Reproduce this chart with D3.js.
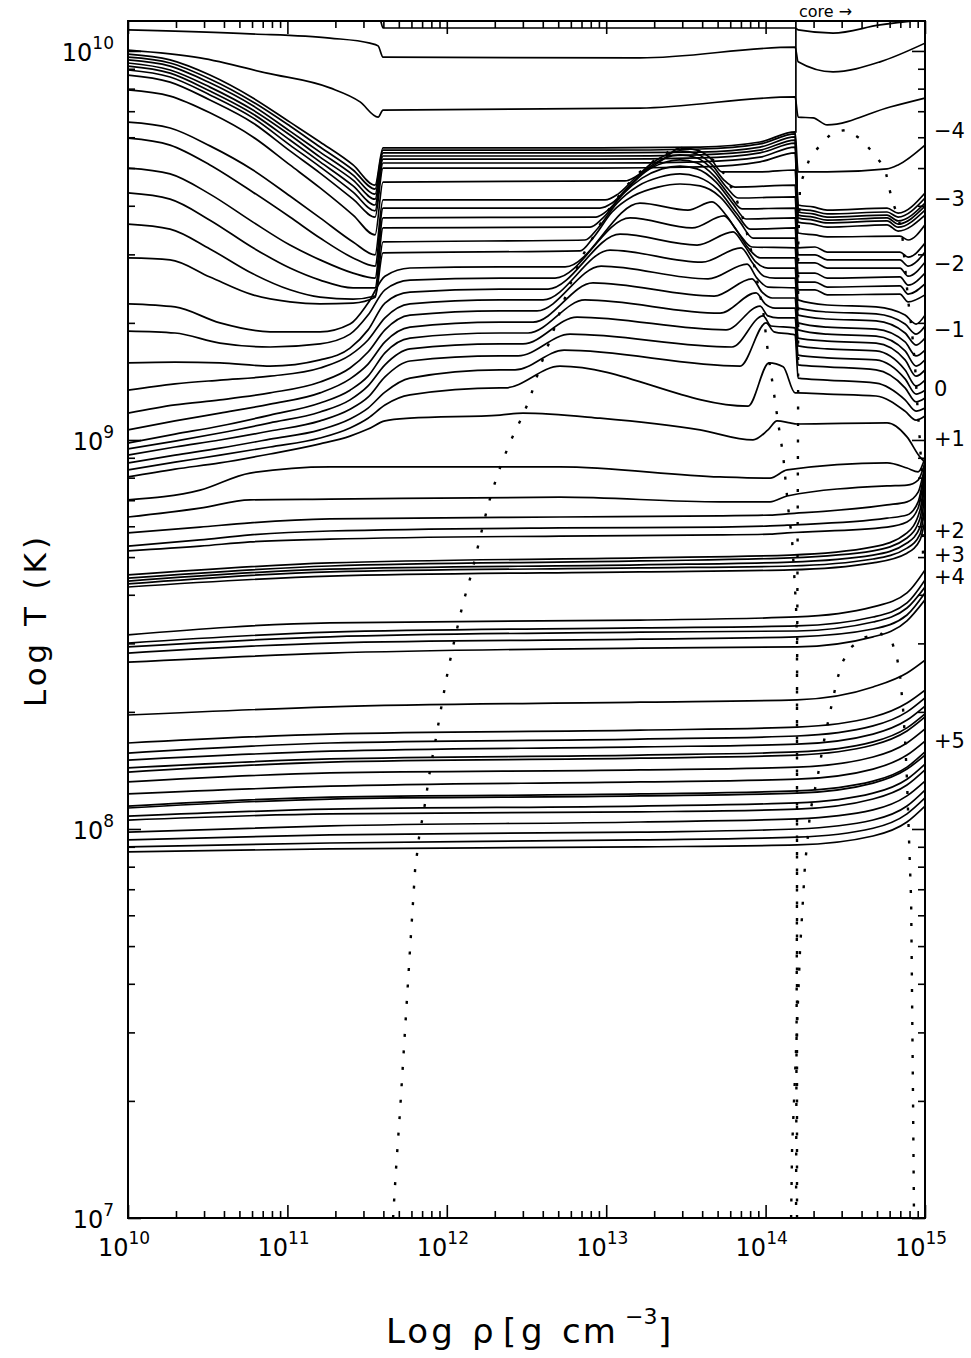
<!DOCTYPE html>
<html>
<head>
<meta charset="utf-8">
<script src="https://cdn.jsdelivr.net/npm/d3@7"></script>
<style>
  body { margin: 0; background: #fff; }
  svg text { font-family: "DejaVu Sans", "Liberation Sans", sans-serif; fill: #000; }
</style>
</head>
<body>
<script>
// values: [log10 rho (g cm^-3), log10 T (K)]

// hottest profiles
const topRim = [[10.000,10.082],[11.581,10.080],[11.600,10.059],[14.185,10.059],[14.204,10.054],[14.423,10.046],[14.718,10.067],[15.000,10.080]];
const hotA = [[10.000,10.054],[10.766,10.044],[11.267,10.033],[11.518,10.020],[11.569,10.013],[11.600,9.984],[13.212,9.982],[14.185,10.010],[14.204,9.972],[14.423,9.946],[14.718,9.972],[15.000,10.020]];
const hotB = [[10.000,10.002],[10.452,9.982],[10.872,9.943],[11.267,9.905],[11.456,9.869],[11.569,9.830],[11.600,9.848],[13.212,9.853],[14.185,9.882],[14.204,9.830],[14.298,9.828],[14.386,9.810],[14.781,9.856],[15.000,9.879]];
const edgeLine = [[14.19,10.08],[14.19,9.79]];

// outer crust part shared by bundle and hump profiles
const rhoLeft = [10.000,10.264,10.514,10.784,11.016,11.205,11.412,11.550];

// bundle: profiles that stay flat across the inner crust
const bundleLeft = [
  [9.992,9.977,9.938,9.879,9.817,9.766,9.707,9.655],
  [9.984,9.969,9.928,9.869,9.807,9.753,9.694,9.645],
  [9.977,9.961,9.918,9.859,9.794,9.740,9.681,9.632],
  [9.969,9.951,9.907,9.848,9.784,9.727,9.668,9.619],
  [9.961,9.943,9.897,9.838,9.771,9.715,9.653,9.604],
  [9.951,9.933,9.887,9.828,9.758,9.702,9.637,9.589],
  [9.938,9.920,9.874,9.815,9.743,9.686,9.619,9.573]
];
const rhoBundleMid = [11.600,12.961,13.589,13.965,14.185];
const bundleMid = [
  [9.751,9.751,9.753,9.766,9.792],
  [9.745,9.745,9.748,9.761,9.787],
  [9.738,9.738,9.740,9.753,9.779],
  [9.730,9.730,9.733,9.745,9.771],
  [9.722,9.722,9.725,9.738,9.763],
  [9.712,9.712,9.715,9.727,9.753],
  [9.699,9.699,9.702,9.715,9.738]
];
const rhoBundleRight = [14.204,14.298,14.386,14.762,14.831,15.000];
const bundleRight = [
  [9.689,9.689,9.689,9.697,9.707,9.758],
  [9.604,9.599,9.591,9.596,9.583,9.635],
  [9.594,9.589,9.581,9.586,9.573,9.622],
  [9.586,9.581,9.573,9.578,9.563,9.609],
  [9.578,9.573,9.565,9.571,9.555,9.601],
  [9.571,9.565,9.558,9.563,9.547,9.591],
  [9.560,9.555,9.547,9.553,9.537,9.578]
];

// single-hump profiles
const humpLeft = [
  [9.900,9.884,9.841,9.779,9.707,9.648,9.578,9.527],
  [9.817,9.802,9.756,9.694,9.627,9.571,9.509,9.476],
  [9.776,9.758,9.707,9.637,9.573,9.519,9.468,9.447],
  [9.699,9.684,9.632,9.560,9.501,9.463,9.429,9.416],
  [9.635,9.619,9.565,9.494,9.442,9.411,9.391,9.391],
  [9.555,9.542,9.491,9.427,9.386,9.367,9.362,9.370],
  [9.468,9.463,9.419,9.373,9.355,9.350,9.352,9.367]
];
const humpMid = [
  [[11.600,9.663],[13.118,9.666],[13.194,9.679],[13.275,9.699],[13.369,9.725],[13.463,9.751],[13.570,9.745],[13.652,9.725],[13.727,9.689],[13.965,9.689],[14.185,9.694]],
  [[11.600,9.617],[12.993,9.617],[13.074,9.632],[13.181,9.673],[13.288,9.712],[13.388,9.735],[13.463,9.743],[13.570,9.735],[13.664,9.707],[13.739,9.668],[13.808,9.650],[14.185,9.655]],
  [[11.600,9.596],[12.961,9.596],[13.037,9.609],[13.150,9.655],[13.263,9.699],[13.369,9.725],[13.463,9.733],[13.570,9.725],[13.670,9.694],[13.758,9.648],[13.827,9.622],[14.185,9.625]],
  [[11.600,9.571],[12.936,9.573],[13.012,9.591],[13.131,9.645],[13.244,9.689],[13.357,9.712],[13.463,9.720],[13.570,9.712],[13.677,9.679],[13.777,9.627],[13.852,9.594],[14.185,9.596]],
  [[11.600,9.545],[12.899,9.547],[12.980,9.571],[13.099,9.630],[13.225,9.673],[13.350,9.697],[13.463,9.704],[13.570,9.697],[13.689,9.663],[13.796,9.607],[13.877,9.568],[14.185,9.571]],
  [[11.600,9.509],[12.867,9.514],[12.949,9.545],[13.068,9.609],[13.200,9.653],[13.338,9.676],[13.463,9.684],[13.576,9.676],[13.702,9.643],[13.821,9.581],[13.903,9.542],[14.185,9.545]],
  [[11.600,9.481],[12.836,9.486],[12.917,9.519],[13.037,9.586],[13.169,9.627],[13.325,9.650],[13.463,9.658],[13.589,9.653],[13.714,9.625],[13.840,9.560],[13.921,9.519],[14.185,9.519]]
];
const rhoHumpRight = [14.204,14.310,14.386,14.843,14.894,15.000];
const humpRight = [
  [9.532,9.527,9.522,9.524,9.514,9.553],
  [9.494,9.496,9.483,9.483,9.470,9.506],
  [9.476,9.476,9.463,9.463,9.447,9.483],
  [9.455,9.455,9.442,9.442,9.421,9.457],
  [9.429,9.429,9.416,9.419,9.398,9.429],
  [9.406,9.406,9.393,9.396,9.375,9.401],
  [9.386,9.386,9.373,9.375,9.355,9.373]
];

// double-hump profiles
const rhoTwinLeft = [10.000,10.295,10.577,10.891,11.205,11.393,11.506,11.612,11.769,12.334];
const twinLeft = [
  [9.350,9.342,9.301,9.278,9.278,9.298,9.352,9.421,9.442,9.445],
  [9.280,9.275,9.249,9.239,9.247,9.272,9.321,9.386,9.411,9.416],
  [9.198,9.200,9.198,9.190,9.206,9.236,9.283,9.352,9.380,9.388],
  [9.128,9.144,9.154,9.164,9.185,9.218,9.257,9.314,9.350,9.360],
  [9.069,9.090,9.103,9.121,9.149,9.185,9.226,9.283,9.321,9.332],
  [9.026,9.049,9.069,9.092,9.121,9.157,9.195,9.252,9.290,9.303],
  [8.992,9.015,9.036,9.064,9.095,9.128,9.164,9.224,9.262,9.275],
  [8.977,8.997,9.018,9.044,9.072,9.103,9.139,9.193,9.234,9.247],
  [8.961,8.982,9.000,9.023,9.049,9.079,9.110,9.162,9.203,9.216],
  [8.941,8.961,8.979,9.002,9.026,9.054,9.082,9.123,9.159,9.180],
  [8.923,8.943,8.961,8.982,9.005,9.031,9.056,9.090,9.116,9.134]
];
const twinMid = [
  [[12.742,9.445],[13.212,9.609],[13.513,9.591],[13.664,9.612],[13.746,9.581],[13.840,9.527],[13.915,9.496],[14.185,9.494]],
  [[12.679,9.416],[13.150,9.571],[13.539,9.545],[13.739,9.576],[13.808,9.545],[13.890,9.494],[13.965,9.468],[14.185,9.468]],
  [[12.635,9.388],[13.087,9.529],[13.570,9.501],[13.796,9.535],[13.865,9.501],[13.940,9.457],[14.015,9.442],[14.185,9.442]],
  [[12.604,9.360],[13.024,9.488],[13.601,9.457],[13.846,9.494],[13.915,9.457],[13.990,9.421],[14.060,9.416],[14.185,9.416]],
  [[12.566,9.332],[12.968,9.447],[13.639,9.414],[13.884,9.452],[13.946,9.416],[14.015,9.393],[14.185,9.391]],
  [[12.541,9.303],[12.917,9.404],[13.677,9.370],[13.915,9.414],[13.978,9.380],[14.041,9.365],[14.185,9.365]],
  [[12.510,9.275],[12.867,9.360],[13.714,9.326],[13.940,9.378],[13.997,9.350],[14.060,9.339],[14.185,9.339]],
  [[12.478,9.247],[12.817,9.316],[13.752,9.283],[13.965,9.344],[14.015,9.319],[14.078,9.314],[14.185,9.314]],
  [[12.447,9.216],[12.773,9.272],[13.789,9.239],[13.984,9.319],[14.034,9.293],[14.185,9.288]],
  [[12.428,9.180],[12.736,9.231],[13.840,9.190],[14.003,9.301],[14.053,9.278],[14.185,9.270]],
  [[12.365,9.134],[12.710,9.190],[13.890,9.087],[14.022,9.198],[14.110,9.188],[14.185,9.121]]
];
const rhoTwinRight = [14.204,14.386,14.693,14.875,14.944,15.000];
const twinRight = [
  [9.360,9.347,9.342,9.321,9.298,9.321],
  [9.339,9.329,9.324,9.298,9.272,9.293],
  [9.321,9.311,9.306,9.275,9.244,9.262],
  [9.301,9.290,9.285,9.252,9.216,9.231],
  [9.283,9.272,9.267,9.229,9.190,9.206],
  [9.262,9.254,9.249,9.206,9.164,9.180],
  [9.242,9.234,9.229,9.180,9.139,9.154],
  [9.218,9.211,9.206,9.157,9.118,9.128],
  [9.193,9.188,9.180,9.134,9.098,9.108],
  [9.159,9.154,9.146,9.103,9.074,9.082],
  [9.121,9.118,9.113,9.074,9.051,9.062]
];

// the ~1e9 K profile
const warmLeft = [8.905,8.925,8.941,8.964,8.990,9.010,9.028,9.049,9.056,9.064];
const warmMid = [[12.478,9.069],[12.961,9.056],[13.589,9.026],[13.921,9.000],[14.015,9.026],[14.072,9.049],[14.153,9.044],[14.197,9.041]];
const warmRight = [[14.762,9.044],[14.887,9.008],[14.969,8.956],[15.000,8.943]];

// cooler profiles converging at the right edge
const rhoShellL = [10.000,10.452,10.766,11.267,12.710,13.714,14.028,14.135,14.762,14.887,14.957,15.000];
const shellL = [
  [8.846,8.871,8.915,8.931,8.931,8.905,8.902,8.923,8.941,8.928,8.918,8.954],
  [8.802,8.825,8.846,8.848,8.853,8.841,8.841,8.856,8.882,8.884,8.897,8.943],
  [8.761,8.776,8.787,8.797,8.802,8.805,8.807,8.810,8.833,8.841,8.866,8.936],
  [8.727,8.743,8.756,8.766,8.774,8.776,8.779,8.781,8.799,8.807,8.841,8.931],
  [8.715,8.727,8.738,8.745,8.753,8.756,8.758,8.761,8.776,8.789,8.825,8.923]
];
const rhoShellK = [10.000,11.267,13.212,14.153,14.674,14.887,14.969,15.000];
const shellK = [
  [8.653,8.684,8.697,8.704,8.725,8.761,8.820,8.918],
  [8.645,8.676,8.689,8.697,8.715,8.748,8.799,8.902],
  [8.637,8.668,8.679,8.686,8.704,8.735,8.776,8.871],
  [8.630,8.661,8.671,8.676,8.694,8.722,8.758,8.833],
  [8.622,8.650,8.661,8.666,8.684,8.709,8.743,8.794]
];
const rhoCool = [10.000,11.267,13.212,14.197,14.674,14.887,15.000];
const coolM = [
  [8.499,8.530,8.537,8.545,8.571,8.607,8.666],
  [8.478,8.506,8.517,8.522,8.545,8.581,8.640],
  [8.468,8.494,8.506,8.509,8.532,8.568,8.622],
  [8.452,8.478,8.488,8.494,8.514,8.550,8.607],
  [8.429,8.452,8.465,8.468,8.494,8.535,8.589]
];
const coolN = [8.293,8.314,8.326,8.332,8.365,8.401,8.434];
const coolG = [
  [8.221,8.244,8.254,8.262,8.288,8.324,8.357],
  [8.195,8.221,8.231,8.239,8.265,8.301,8.337],
  [8.177,8.200,8.211,8.218,8.244,8.280,8.316],
  [8.157,8.180,8.190,8.198,8.224,8.260,8.296],
  [8.146,8.172,8.182,8.190,8.216,8.252,8.288],
  [8.121,8.144,8.152,8.159,8.185,8.221,8.257],
  [8.090,8.110,8.121,8.128,8.154,8.190,8.226],
  [8.059,8.082,8.090,8.098,8.123,8.159,8.198],
  [8.054,8.077,8.085,8.092,8.118,8.154,8.190],
  [8.033,8.051,8.059,8.067,8.092,8.128,8.167],
  [8.023,8.039,8.044,8.051,8.077,8.113,8.152],
  [7.992,8.008,8.018,8.026,8.049,8.085,8.123],
  [7.972,7.985,7.992,8.000,8.023,8.059,8.100],
  [7.954,7.964,7.972,7.979,8.002,8.039,8.080],
  [7.941,7.949,7.954,7.959,7.982,8.018,8.059]
];

// dotted curves
const dotArcLeft = [[11.663,7.000],[11.681,7.123],[11.707,7.277],[11.738,7.483],[11.769,7.689],[11.801,7.895],[11.826,7.979],[11.864,8.067],[11.895,8.152],[11.933,8.236],[11.970,8.324],[12.008,8.409],[12.052,8.493],[12.102,8.581],[12.158,8.661],[12.208,8.748],[12.259,8.833],[12.321,8.915],[12.397,8.995],[12.478,9.064],[12.522,9.108],[12.585,9.188],[12.660,9.270],[12.729,9.352],[12.792,9.419],[12.855,9.476],[12.943,9.540],[13.005,9.586],[13.131,9.655],[13.212,9.689],[13.306,9.720],[13.388,9.740],[13.463,9.751],[13.570,9.745],[13.670,9.720],[13.746,9.681],[13.808,9.630],[13.871,9.553],[13.915,9.476],[13.953,9.398],[13.984,9.334],[14.015,9.224],[14.047,9.136],[14.078,9.046],[14.110,8.961],[14.141,8.828],[14.166,8.743],[14.179,8.658],[14.191,8.571],[14.197,8.486],[14.197,7.869],[14.191,7.000]];
const dotArcRight = [[14.197,7.000],[14.197,8.332],[14.204,9.103],[14.204,9.488],[14.216,9.655],[14.279,9.727],[14.354,9.763],[14.423,9.792],[14.511,9.797],[14.605,9.771],[14.674,9.738],[14.749,9.699],[14.768,9.661],[14.793,9.617],[14.831,9.573],[14.856,9.532],[14.875,9.445],[14.894,9.360],[14.919,9.275],[14.938,9.188],[14.950,9.103],[14.969,8.992],[14.981,8.897],[14.988,8.691]];
const dotArcLow = [[14.160,7.000],[14.166,7.175],[14.191,7.432],[14.216,7.689],[14.248,7.913],[14.260,7.959],[14.279,8.041],[14.298,8.082],[14.323,8.126],[14.361,8.216],[14.405,8.301],[14.448,8.383],[14.480,8.427],[14.530,8.465],[14.611,8.491],[14.718,8.504],[14.793,8.481],[14.825,8.439],[14.843,8.396],[14.862,8.311],[14.875,8.229],[14.887,8.126],[14.900,7.972],[14.913,7.817],[14.919,7.560],[14.925,7.303],[14.931,7.000]];

// axis ticks and labels
const tempDecades = [7, 8, 9, 10];
const rhoDecades = [10, 11, 12, 13, 14, 15];
const levelLabels = ["\u22124", "\u22123", "\u22122", "\u22121", "0", "+1", "+2", "+3", "+4", "+5"];
const levelLabelT = [9.797, 9.622, 9.455, 9.285, 9.134, 9.005, 8.769, 8.707, 8.650, 8.229];

// ---- drawing ----
const width = 971, height = 1358;
const plotL = 128, plotR = 925, plotT = 21, plotB = 1218;

const x = d3.scaleLinear().domain([10, 15]).range([plotL, plotR]);
const y = d3.scaleLinear().domain([7, 10.077]).range([plotB, plotT]);

const svg = d3.select("body").append("svg")
  .attr("width", width)
  .attr("height", height);

svg.append("defs").append("clipPath").attr("id", "plot")
  .append("rect")
  .attr("x", plotL).attr("y", plotT)
  .attr("width", plotR - plotL).attr("height", plotB - plotT);

const zip = (grid, vals) => grid.map((r, i) => [r, vals[i]]);

const profiles = [topRim, hotA, hotB];
bundleLeft.forEach((v, i) => profiles.push([...zip(rhoLeft, v), ...zip(rhoBundleMid, bundleMid[i]), ...zip(rhoBundleRight, bundleRight[i])]));
humpLeft.forEach((v, i) => profiles.push([...zip(rhoLeft, v), ...humpMid[i], ...zip(rhoHumpRight, humpRight[i])]));
twinLeft.forEach((v, i) => profiles.push([...zip(rhoTwinLeft, v), ...twinMid[i], ...zip(rhoTwinRight, twinRight[i])]));
profiles.push([...zip(rhoTwinLeft, warmLeft), ...warmMid, ...warmRight]);
shellL.forEach(v => profiles.push(zip(rhoShellL, v)));
shellK.forEach(v => profiles.push(zip(rhoShellK, v)));
coolM.forEach(v => profiles.push(zip(rhoCool, v)));
profiles.push(zip(rhoCool, coolN));
coolG.forEach(v => profiles.push(zip(rhoCool, v)));

const smooth = d3.line().x(d => x(d[0])).y(d => y(d[1])).curve(d3.curveMonotoneX);
const straight = d3.line().x(d => x(d[0])).y(d => y(d[1]));

const plot = svg.append("g").attr("clip-path", "url(#plot)");

plot.selectAll("path.profile")
  .data(profiles)
  .join("path")
  .attr("class", "profile")
  .attr("d", smooth)
  .attr("fill", "none")
  .attr("stroke", "#000")
  .attr("stroke-width", 1.7);

plot.append("path")
  .attr("d", straight(edgeLine))
  .attr("fill", "none").attr("stroke", "#000").attr("stroke-width", 1.7);

plot.selectAll("path.dots")
  .data([dotArcLeft, dotArcRight, dotArcLow])
  .join("path")
  .attr("class", "dots")
  .attr("d", straight)
  .attr("fill", "none")
  .attr("stroke", "#000")
  .attr("stroke-width", 2.4)
  .attr("stroke-dasharray", "3 13.5");

// axes: ticks point into the plot on all four sides
const minorOf = decs => decs.slice(0, -1).flatMap(d => d3.range(2, 10).map(k => d + Math.log10(k)));
const yMinor = minorOf(tempDecades);
const xMinor = minorOf(rhoDecades);

const axes = svg.append("g");
const addAxis = (gen, tx, ty) => axes.append("g").attr("transform", `translate(${tx},${ty})`).call(gen);
addAxis(d3.axisLeft(y).tickValues(tempDecades).tickSize(-13).tickFormat(""), plotL, 0);
addAxis(d3.axisLeft(y).tickValues(yMinor).tickSize(-7).tickFormat(""), plotL, 0);
addAxis(d3.axisRight(y).tickValues(tempDecades).tickSize(-13).tickFormat(""), plotR, 0);
addAxis(d3.axisRight(y).tickValues(yMinor).tickSize(-7).tickFormat(""), plotR, 0);
addAxis(d3.axisBottom(x).tickValues(rhoDecades).tickSize(-13).tickFormat(""), 0, plotB);
addAxis(d3.axisBottom(x).tickValues(xMinor).tickSize(-7).tickFormat(""), 0, plotB);
addAxis(d3.axisTop(x).tickValues(rhoDecades).tickSize(-13).tickFormat(""), 0, plotT);
addAxis(d3.axisTop(x).tickValues(xMinor).tickSize(-7).tickFormat(""), 0, plotT);
axes.selectAll(".domain").remove();
axes.selectAll("line").attr("stroke", "#000").attr("stroke-width", 1.6);

svg.append("rect")
  .attr("x", plotL).attr("y", plotT)
  .attr("width", plotR - plotL).attr("height", plotB - plotT)
  .attr("fill", "none").attr("stroke", "#000").attr("stroke-width", 2);

// tick labels
tempDecades.forEach(e => {
  const t = svg.append("text")
    .attr("x", plotL - 14).attr("y", y(e) + 10)
    .attr("text-anchor", "end").attr("font-size", 24);
  t.append("tspan").text("10");
  t.append("tspan").attr("dy", -12).attr("font-size", 17).text(e);
});
rhoDecades.forEach(e => {
  const t = svg.append("text")
    .attr("x", x(e) - 30).attr("y", plotB + 38)
    .attr("font-size", 24);
  t.append("tspan").text("10");
  t.append("tspan").attr("dy", -12).attr("font-size", 17).text(e);
});

// labels beside the profiles
levelLabels.forEach((s, i) => {
  svg.append("text")
    .attr("x", plotR + 9).attr("y", y(levelLabelT[i]) + 8)
    .attr("font-size", 21)
    .text(s);
});
svg.append("text").attr("x", 799).attr("y", 17).attr("font-size", 16).text("core \u2192");

// axis titles
svg.append("text")
  .attr("transform", "translate(46,622) rotate(-90)")
  .attr("text-anchor", "middle")
  .attr("font-size", 31)
  .attr("textLength", 170)
  .attr("lengthAdjust", "spacing")
  .text("Log T (K)");

const xt = svg.append("text").attr("y", 1343).attr("font-size", 34);
xt.append("tspan").attr("x", 386).attr("letter-spacing", 3).text("Log");
xt.append("tspan").attr("x", 472).text("\u03c1");
xt.append("tspan").attr("x", 503).text("[");
xt.append("tspan").attr("x", 521).text("g");
xt.append("tspan").attr("x", 562).attr("letter-spacing", 2).text("cm");
xt.append("tspan").attr("x", 625).attr("dy", -19).attr("font-size", 22).text("\u22123");
xt.append("tspan").attr("x", 658).attr("dy", 19).text("]");
</script>
</body>
</html>
